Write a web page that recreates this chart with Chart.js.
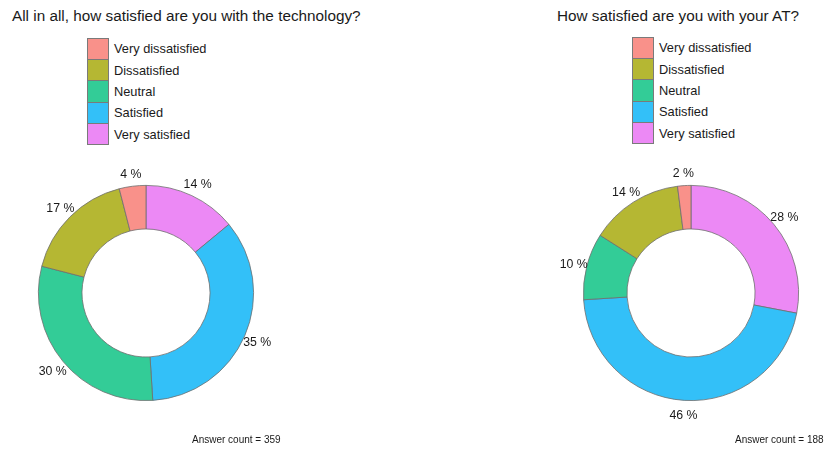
<!DOCTYPE html>
<html>
<head>
<meta charset="utf-8">
<script src="https://cdn.jsdelivr.net/npm/chart.js@4.4.1/dist/chart.umd.min.js"></script>
<style>
  html, body { margin: 0; padding: 0; background: #fff; }
  body { width: 827px; height: 453px; position: relative; overflow: hidden;
         font-family: "Liberation Sans", Arial, sans-serif; color: #1a1a1a; }
  .title { position: absolute; top: 8px; font-size: 15.3px; line-height: 16px; white-space: nowrap; }
  .legend { position: absolute; font-size: 12.8px; }
  .legend .item { display: flex; align-items: center; height: 21.4px; }
  .legend .key { width: 20px; height: 20.4px; border: 0.5px solid #7a7a7a; box-sizing: content-box; }
  .legend .lab { margin-left: 5px; white-space: nowrap; }
  .count { position: absolute; top: 434px; font-size: 10px; line-height: 11px; white-space: nowrap; }
  .box { position: absolute; width: 300px; height: 300px; }
</style>
</head>
<body>
<div class="title" style="left:12px">All in all, how satisfied are you with the technology?</div>
<div class="title" style="left:557px">How satisfied are you with your AT?</div>
<div class="legend" id="legend-tech" style="left:87px; top:38px"></div>
<div class="legend" id="legend-at" style="left:632px; top:37px"></div>
<div class="box" style="left:-4px; top:143px"><canvas id="chart-tech"></canvas></div>
<div class="box" style="left:541px; top:143px"><canvas id="chart-at"></canvas></div>
<div class="count" style="left:192px">Answer count = 359</div>
<div class="count" style="left:735px">Answer count = 188</div>

<script>
// legend order (top to bottom)
const categories = ['Very dissatisfied', 'Dissatisfied', 'Neutral', 'Satisfied', 'Very satisfied'];
const colors = ['#F9918A', '#B5B733', '#33CC97', '#33C0F8', '#EC89F5'];

// percentages per category, same order as categories
const techPercent = [4, 17, 30, 35, 14];
const atPercent = [2, 14, 10, 46, 28];

function buildLegend(id) {
  const el = document.getElementById(id);
  categories.forEach(function (c, i) {
    const item = document.createElement('div');
    item.className = 'item';
    item.innerHTML = '<span class="key" style="background:' + colors[i] + '"></span>' +
                     '<span class="lab">' + c + '</span>';
    el.appendChild(item);
  });
}

/* draws "xx %" just outside each slice */
const sliceLabels = {
  id: 'sliceLabels',
  afterDatasetsDraw(chart) {
    const ctx = chart.ctx;
    const meta = chart.getDatasetMeta(0);
    ctx.save();
    ctx.font = '12.3px "Liberation Sans", Arial, sans-serif';
    ctx.fillStyle = '#1a1a1a';
    ctx.textAlign = 'center';
    ctx.textBaseline = 'middle';
    meta.data.forEach(function (arc, i) {
      const p = arc.getProps(['x', 'y', 'startAngle', 'endAngle', 'outerRadius']);
      const a = (p.startAngle + p.endAngle) / 2;
      const r = p.outerRadius + 13.5;
      ctx.fillText(chart.data.datasets[0].data[i] + ' %', p.x + Math.cos(a) * r, p.y + Math.sin(a) * r + 1.5);
    });
    ctx.restore();
  }
};

/* ring drawn clockwise from 12 o'clock, starting with "Very satisfied" */
function initDonut(id, values) {
  const ctx = document.getElementById(id);
  return new Chart(ctx, {
    type: 'doughnut',
    data: {
      labels: categories.slice().reverse(),
      datasets: [{
        data: values.slice().reverse(),
        backgroundColor: colors.slice().reverse(),
        borderColor: '#6e6e6e',
        borderWidth: 0.8
      }]
    },
    options: {
      responsive: true,
      maintainAspectRatio: false,
      animation: false,
      cutout: '59.5%',
      layout: { padding: 42 },
      plugins: {
        legend: { display: false },
        tooltip: { enabled: false }
      }
    },
    plugins: [sliceLabels]
  });
}

buildLegend('legend-tech');
buildLegend('legend-at');
initDonut('chart-tech', techPercent);
initDonut('chart-at', atPercent);
</script>
</body>
</html>
